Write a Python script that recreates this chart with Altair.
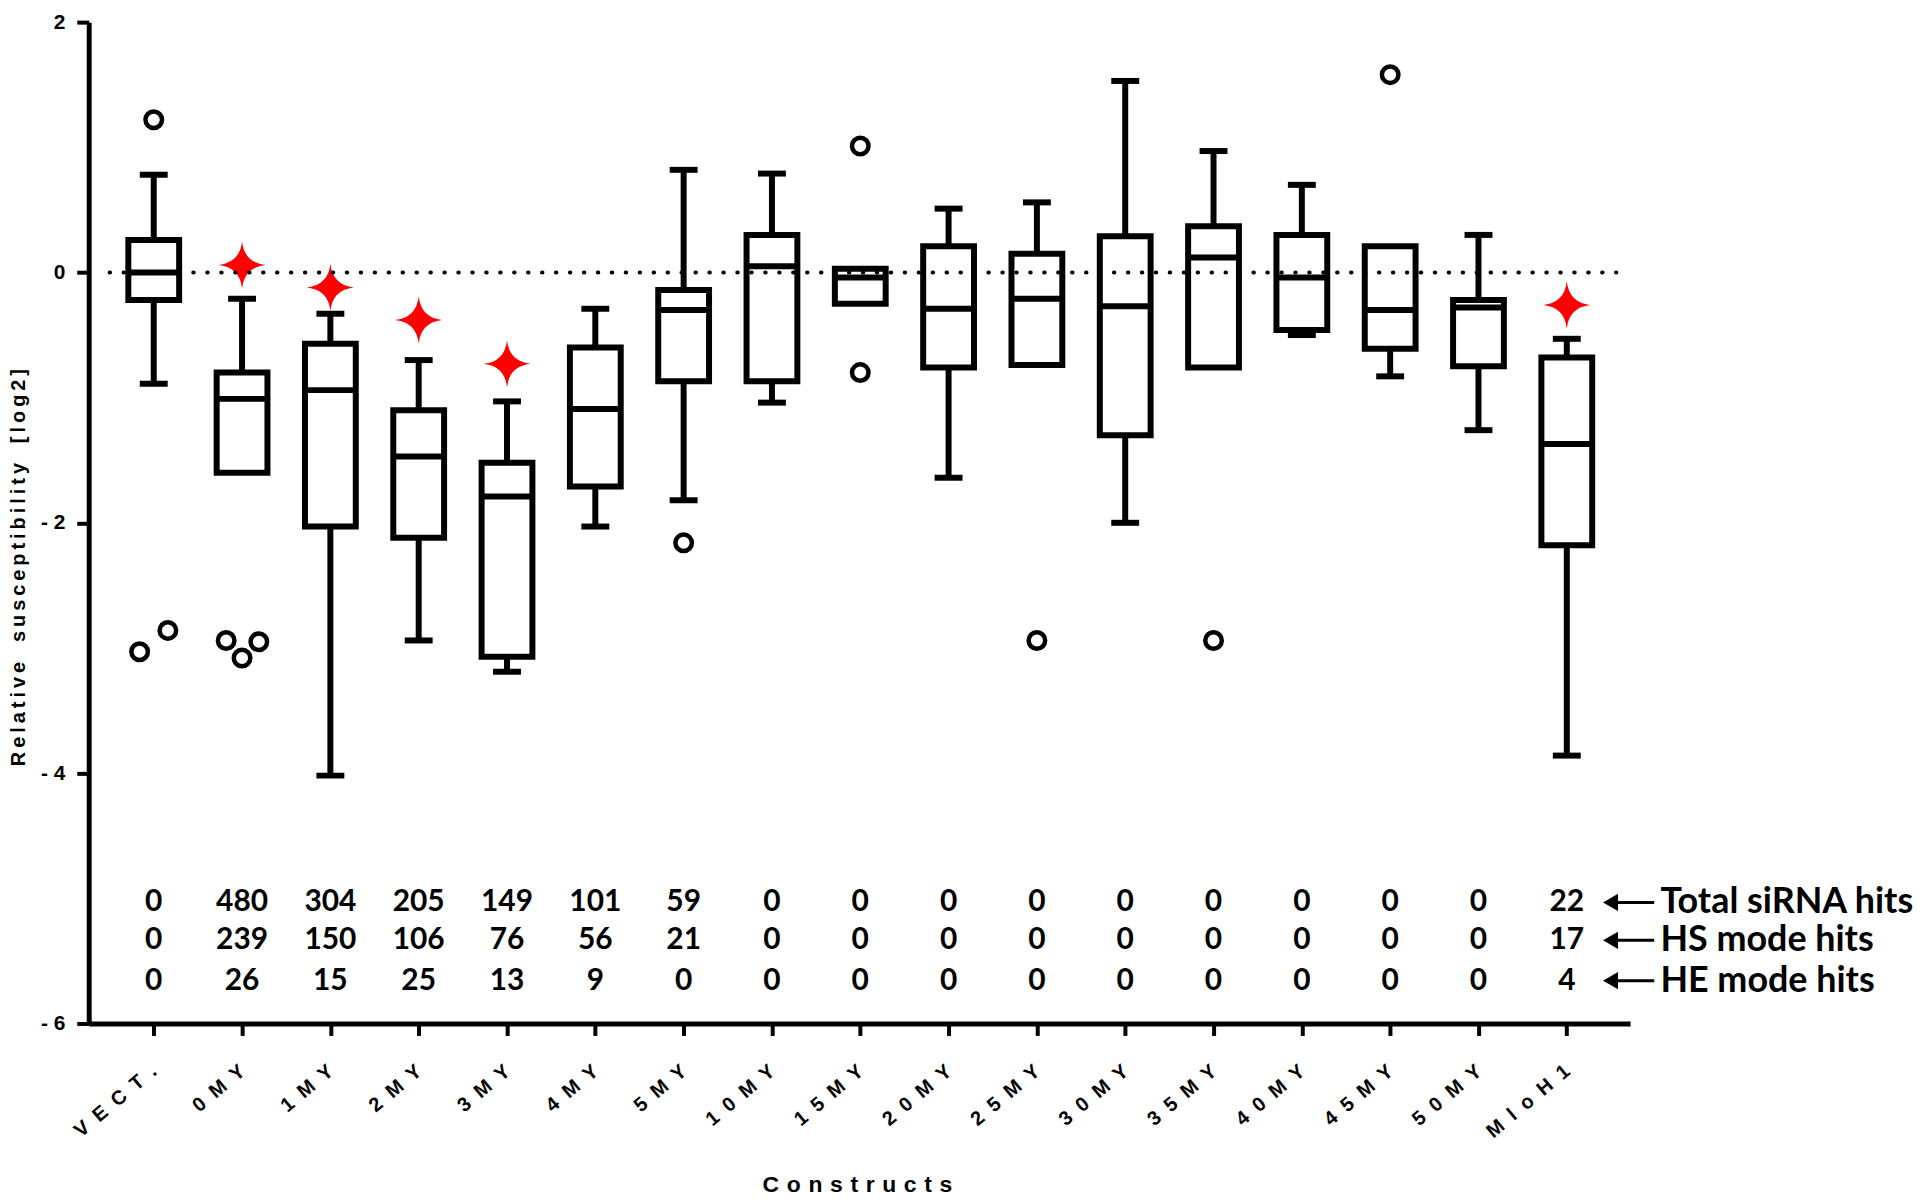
import altair as alt
import pandas as pd

# ---------------- data ----------------
categories = ["VECT.", "0MY", "1MY", "2MY", "3MY", "4MY", "5MY", "10MY", "15MY",
              "20MY", "25MY", "30MY", "35MY", "40MY", "45MY", "50MY", "MloH1"]
upper_whisker = [0.78, -0.21, -0.33, -0.70, -1.03, -0.29, 0.82, 0.79, None,
                 0.51, 0.56, 1.53, 0.97, 0.70, None, 0.30, -0.53]
q3 = [0.26, -0.80, -0.57, -1.10, -1.52, -0.60, -0.14, 0.30, 0.03,
      0.21, 0.15, 0.29, 0.37, 0.30, 0.21, -0.22, -0.68]
median = [0.00, -1.01, -0.94, -1.47, -1.79, -1.09, -0.30, 0.05, -0.04,
          -0.29, -0.21, -0.27, 0.12, -0.04, -0.30, -0.28, -1.37]
q1 = [-0.22, -1.60, -2.03, -2.12, -3.07, -1.71, -0.87, -0.87, -0.25,
      -0.76, -0.74, -1.30, -0.76, -0.46, -0.61, -0.75, -2.18]
lower_whisker = [-0.89, None, -4.02, -2.94, -3.19, -2.03, -1.82, -1.04, None,
                 -1.64, None, -2.00, None, -0.50, -0.83, -1.26, -3.86]

outlier_cat = [0, 0, 0, 1, 1, 1, 6, 8, 8, 10, 12, 14]
outlier_val = [1.22, -3.03, -2.86, -2.94, -3.08, -2.95, -2.16, 1.01, -0.80, -2.94, -2.94, 1.58]
outlier_shift = [0, -0.16, 0.16, -0.18, 0, 0.19, 0, 0, 0, 0, 0, 0]

star_cat = [1, 2, 3, 4, 16]
star_val = [0.06, -0.12, -0.38, -0.73, -0.26]

total_hits = [0, 480, 304, 205, 149, 101, 59, 0, 0, 0, 0, 0, 0, 0, 0, 0, 22]
hs_hits = [0, 239, 150, 106, 76, 56, 21, 0, 0, 0, 0, 0, 0, 0, 0, 0, 17]
he_hits = [0, 26, 15, 25, 13, 9, 0, 0, 0, 0, 0, 0, 0, 0, 0, 0, 4]
row_names = ["Total siRNA hits", "HS mode hits", "HE mode hits"]
row_level = [-5.033, -5.336, -5.658]

y_ticks = [-6, -4, -2, 0, 2]

# ---------------- tables ----------------
n = len(categories)
idx = list(range(n))
box_df = pd.DataFrame({"i": idx, "q1": q1, "q3": q3, "median": median})
up_df = pd.DataFrame({"i": idx, "a": q3, "b": upper_whisker}).dropna()
lo_df = pd.DataFrame({"i": idx, "a": q1, "b": lower_whisker}).dropna()
whisk_df = pd.concat([up_df, lo_df], ignore_index=True)
out_df = pd.DataFrame({"x": [c + s for c, s in zip(outlier_cat, outlier_shift)], "v": outlier_val})
star_df = pd.DataFrame({"i": star_cat, "v": star_val})

rows = []
for r, vals in enumerate([total_hits, hs_hits, he_hits]):
    for i, v in enumerate(vals):
        rows.append({"i": i, "y": row_level[r], "t": str(v)})
num_df = pd.DataFrame(rows)
arrow_df = pd.DataFrame({"head": [16.495] * 3, "tail": [16.99] * 3,
                         "lab": [17.06] * 3, "y": row_level, "t": row_names})
zero_df = pd.DataFrame({"x0": [-0.5], "x1": [16.56], "y": [0]})

# ---------------- scales / axes ----------------
xs = alt.Scale(domain=[-0.68, 16.66], nice=False, zero=False)
ys = alt.Scale(domain=[-6, 2], nice=False, zero=False)

EM = "\u2003"
THIRD = "\u2004"
FOURTH = "\u2005"
THIN = "\u2009"
spaced = [(FOURTH + " ").join(list(c)) for c in categories]
label_js = "[" + ",".join("'" + s + "'" for s in spaced) + "][datum.value]"
ytitle = EM.join(THIN.join(list(w)) for w in ["Relative", "susceptibility", "[log2]"])
xtitle = THIRD.join(list("Constructs"))

AX_FONT = "Liberation Sans"

x_axis = alt.Axis(
    values=idx, labelExpr=label_js, labelAngle=-40, labelAlign="right",
    labelBaseline="middle", labelFont=AX_FONT, labelFontWeight="bold",
    labelFontSize=20, labelPadding=33, labelColor="black", labelFlush=False,
    labelOverlap=False, labelBound=False,
    tickSize=12, tickWidth=4, tickColor="black",
    domainColor="black", domainWidth=5, grid=False,
    title=xtitle, titleFont=AX_FONT, titleFontSize=23, titleFontWeight="bold",
    titleColor="black", titleX=771, titleY=169, titleAlign="center",
    titleBaseline="alphabetic",
)
y_axis = alt.Axis(
    values=y_ticks,
    labelExpr="datum.value < 0 ? '- ' + toString(-datum.value) : toString(datum.value)",
    labelFont=AX_FONT, labelFontWeight="bold", labelFontSize=21, labelPadding=12,
    labelColor="black", labelFlush=False,
    tickSize=12, tickWidth=4, tickColor="black",
    domainColor="black", domainWidth=5, grid=False,
    title=ytitle, titleFont=AX_FONT, titleFontSize=20, titleFontWeight="bold",
    titleColor="black", titleX=-70, titleY=547, titleAngle=270,
    titleAlign="center", titleBaseline="middle",
)


def X(field):
    return alt.X(field, scale=xs, axis=x_axis)


def Y(field):
    return alt.Y(field, scale=ys, axis=y_axis)


LW = 6

# ---------------- layers ----------------
whiskers = alt.Chart(whisk_df).mark_rule(color="black", strokeWidth=LW, opacity=1).encode(
    x=X("i:Q"), y=Y("a:Q"), y2="b:Q",
)
caps = alt.Chart(whisk_df).mark_tick(orient="horizontal", size=28, thickness=LW,
                                     color="black", opacity=1).encode(
    x=X("i:Q"), y=Y("b:Q"),
)
boxes = alt.Chart(box_df).mark_bar(size=51, fill="white", stroke="black",
                                   strokeWidth=LW, opacity=1).encode(
    x=X("i:Q"), y=Y("q1:Q"), y2="q3:Q",
)
medians = alt.Chart(box_df).mark_tick(orient="horizontal", size=54, thickness=LW,
                                      color="black", opacity=1).encode(
    x=X("i:Q"), y=Y("median:Q"),
)
outliers = alt.Chart(out_df).mark_point(shape="circle", size=275, filled=False, color="black",
                                        strokeWidth=4.5, opacity=1).encode(
    x=X("x:Q"), y=Y("v:Q"),
)
STAR = "M0,-1Q0.1,-0.1,1,0Q0.1,0.1,0,1Q-0.1,0.1,-1,0Q-0.1,-0.1,0,-1Z"
stars = alt.Chart(star_df).mark_point(shape=STAR, size=2209, filled=True, color="#ff0000",
                                      opacity=1, strokeWidth=0).encode(
    x=X("i:Q"), y=Y("v:Q"),
)
zero_line = alt.Chart(zero_df).mark_rule(color="black", strokeWidth=4, strokeDash=[0.5, 13.5],
                                         strokeCap="round", opacity=1).encode(
    x=X("x0:Q"), x2="x1:Q", y=Y("y:Q"),
)
numbers = alt.Chart(num_df).mark_text(font="Lato", fontWeight="bold", fontSize=30,
                                      align="center", baseline="middle", color="black").encode(
    x=X("i:Q"), y=Y("y:Q"), text="t:N",
)
arrow_lines = alt.Chart(arrow_df).mark_rule(color="black", strokeWidth=3, opacity=1).encode(
    x=X("head:Q"), x2="tail:Q", y=Y("y:Q"),
)
arrow_heads = alt.Chart(arrow_df).mark_point(shape="triangle-left", size=300, filled=True,
                                             color="black", opacity=1).encode(
    x=X("head:Q"), y=Y("y:Q"),
)
labels = alt.Chart(arrow_df).mark_text(
    font="Lato", fontWeight="bold", fontSize=36, align="left", baseline="middle", color="black"
).encode(
    x=X("lab:Q"), y=Y("y:Q"), text="t:N",
)

chart = alt.layer(
    whiskers, caps, boxes, medians, outliers, stars, zero_line,
    numbers, arrow_lines, arrow_heads, labels,
).properties(
    width=1547, height=1005,
    autosize=alt.AutoSizeParams(type="none"),
    padding={"left": 81, "top": 12, "right": 292, "bottom": 174},
    background="white",
).configure_view(stroke=None)

chart.save("out.html", embed_options={"renderer": "svg", "actions": False})
